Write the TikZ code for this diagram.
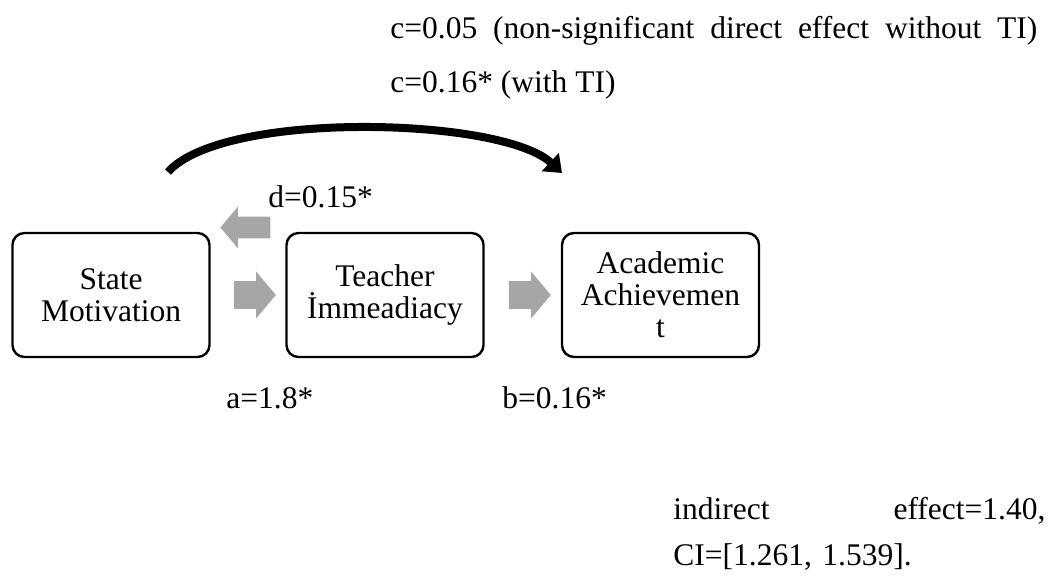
\documentclass[tikz,border=0pt]{standalone}
\usepackage{fontspec}
\setmainfont{Liberation Serif}
\usetikzlibrary{positioning,shapes.arrows,arrows.meta}

\tikzset{
  varbox/.style={draw, line width=1.2pt, rounded corners=6pt, minimum width=98.5pt,
    minimum height=62pt, inner sep=0pt, align=center},
  blockarrow/.style={single arrow, fill=black!35, draw=none, inner xsep=0pt,
    single arrow tip angle=100},
  coef/.style={anchor=base west, inner sep=0pt}
}

\begin{document}
\begin{tikzpicture}[x=0.5pt,y=-0.5pt,font=\fontsize{15.75pt}{16pt}\selectfont]
  \useasboundingbox (0,0) rectangle (1056,579);
  % boxes
  \node[varbox] (sm) at (111,295) {State\\Motivation};
  \node[varbox] (ti) at (385,295) {Teacher\\İmmeadiacy};
  \node[varbox] (aa) at (660.5,295) {Academic\\Achievemen\\t};
  % block arrows
  \node[blockarrow, inner ysep=6.75pt, single arrow head extend=4.75pt, minimum height=21pt] (arrA) at (249,295) {};
  \node[blockarrow, inner ysep=6.75pt, single arrow head extend=4.75pt, minimum height=21pt] (arrB) at (524,295) {};
  \node[blockarrow, inner ysep=5.25pt, single arrow head extend=5pt, minimum height=25pt,
    shape border rotate=180] (arrD) at (250,227.5) {};
  % direct path
  \coordinate (cStart) at (168,172);
  \coordinate (cEnd) at (562,173);
  \draw[line width=4pt, -{Triangle[length=8pt,width=12pt]}]
    (cStart) .. controls +(55,-62) and +(-60,-56) .. (cEnd);
  % coefficients
  \node[coef] (labC1) at (390,38)
    {\makebox[323.5pt][s]{c=0.05 (non-significant direct effect without TI)}};
  \node[coef] (labC2) at (390,92) {c=0.16* (with TI)};
  \node[coef] (labD) at (268,207) {d=0.15*};
  \node[coef] (labA) at (226,408) {a=1.8*};
  \node[coef] (labB) at (502,408) {b=0.16*};
  \node[coef, text width=186pt, align=left] (labInd) at (673,519)
    {indirect\hfill effect=1.40,\\[7pt]CI=[1.261, 1.539].};
\end{tikzpicture}
\end{document}
